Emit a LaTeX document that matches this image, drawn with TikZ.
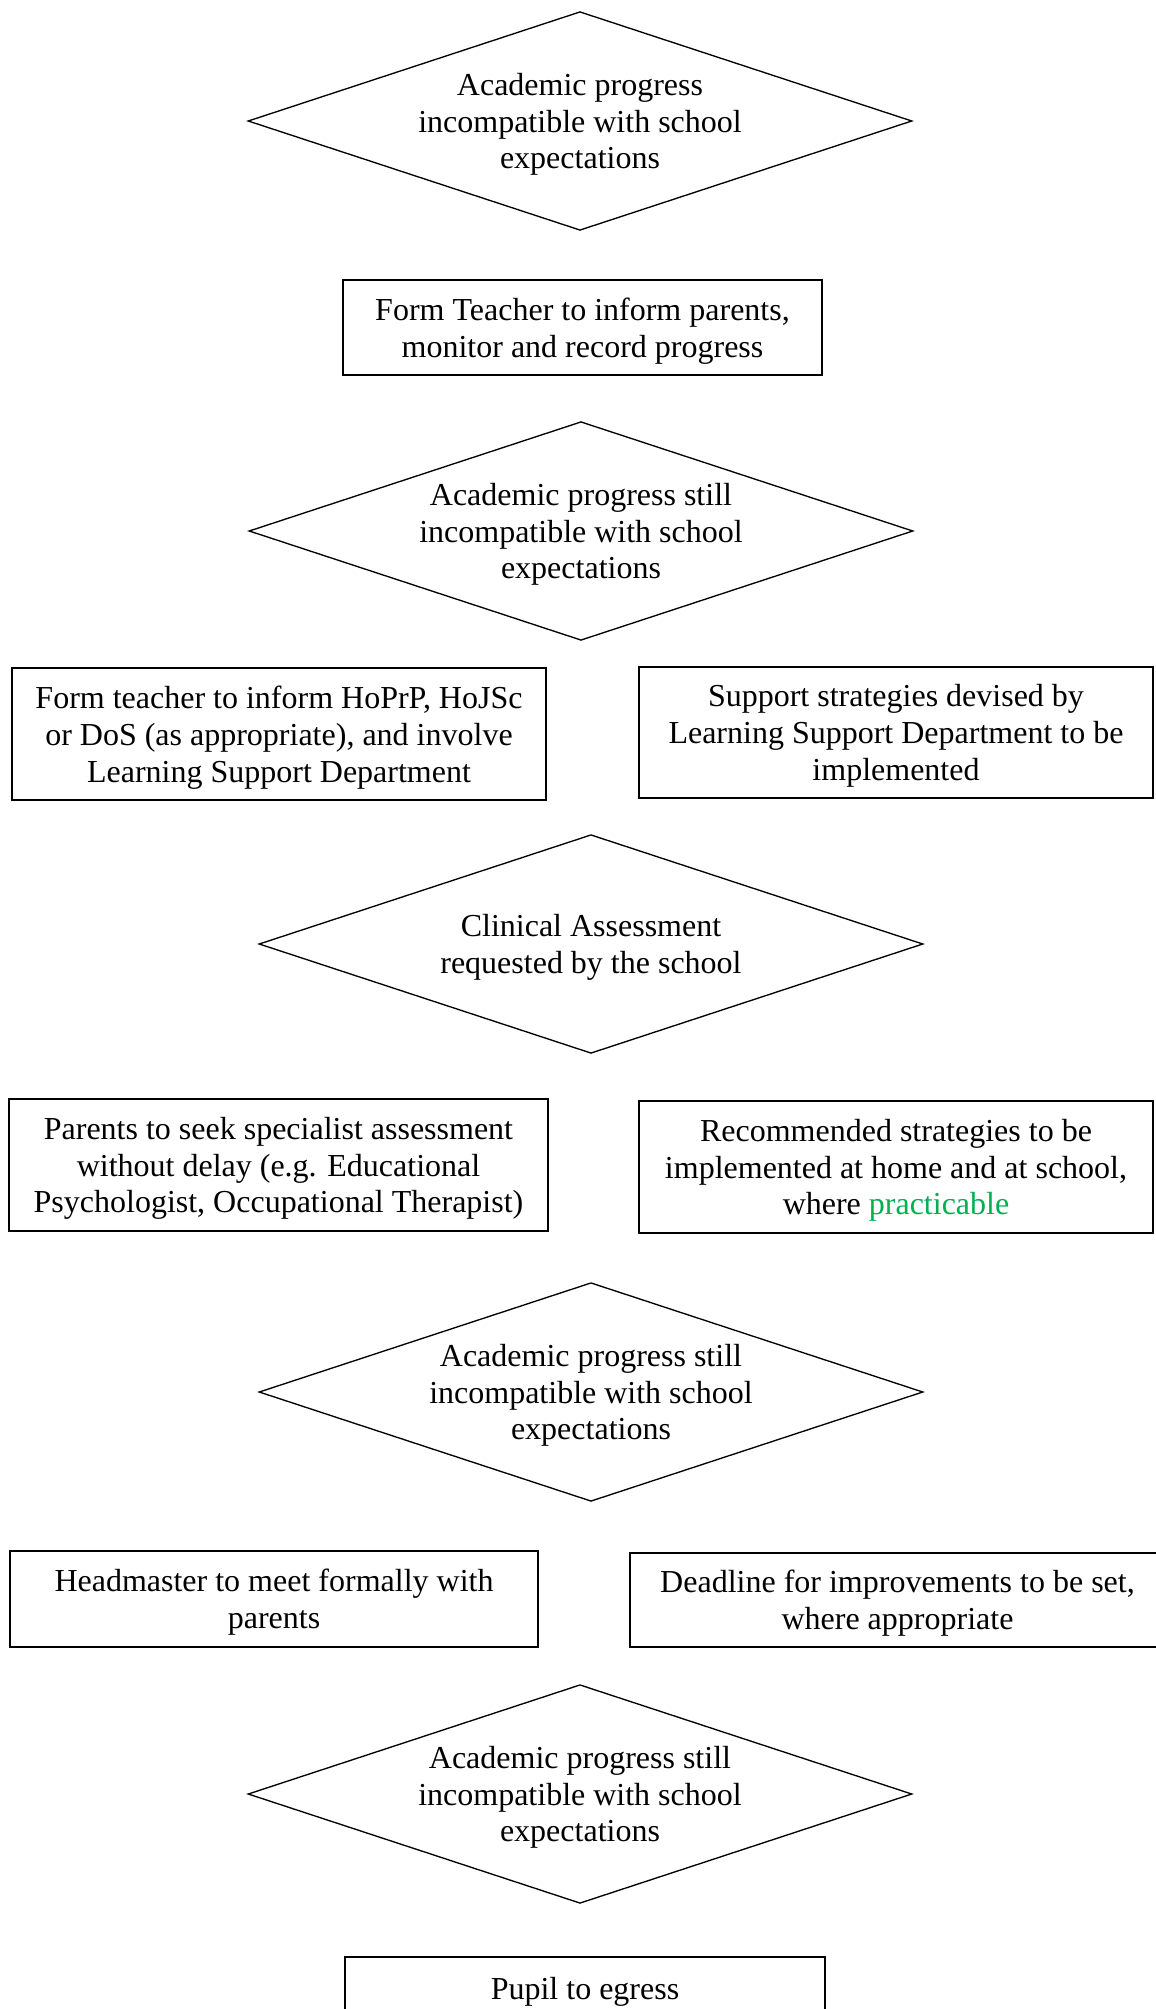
\documentclass[tikz,border=0pt]{standalone}
\usepackage{fontspec}
\setmainfont{Liberation Serif}
\usepackage{xcolor}
\usetikzlibrary{shapes.geometric}
\definecolor{practgreen}{HTML}{00B050}

\begin{document}
\begin{tikzpicture}[
        x=0.375pt, y=-0.375pt, % Coordenadas en pixeles de la imagen
        font=\fontsize{12pt}{13.8pt}\selectfont, % Fuente de las etiquetas
        decision/.style={diamond, aspect=3.03, draw, line width=0.5pt, align=center, %
        inner sep=0pt, text depth=-2.6pt, minimum width=249pt, minimum height=82pt}, % Rombos
        action/.style={rectangle, draw, line width=0.5pt, align=center, text depth=-2.4pt} % Cajas
    ]
        % --- Margenes de la figura ---
        \useasboundingbox (0,0) rectangle (1155,2009);

        % --- Primer bloque ---
        \node[decision] (prog) at (580,121) {Academic progress\\incompatible with school\\expectations};
        \node[action, minimum width=179.6pt, minimum height=35.6pt] (inform) at (582.5,327.5) {Form Teacher to inform parents,\\monitor and record progress};

        % --- Segundo bloque ---
        \node[decision] (still1) at (581,531) {Academic progress still\\incompatible with school\\expectations};
        \node[action, minimum width=200.3pt, minimum height=49.5pt] (involve) at (279,734) {Form teacher to inform HoPrP, HoJSc\\or DoS (as appropriate), and involve\\Learning Support Department};
        \node[action, minimum width=192.8pt, minimum height=49.1pt] (support) at (896,732.5) {Support strategies devised by\\Learning Support Department to be\\implemented};

        % --- Tercer bloque ---
        \node[decision] (clinical) at (591,944) {Clinical Assessment\\requested by the school};
        \node[action, minimum width=202.1pt, minimum height=49.5pt] (specialist) at (278.5,1165) {Parents to seek specialist assessment\\without delay (e.g. Educational\\Psychologist, Occupational Therapist)};
        \node[action, minimum width=192.8pt, minimum height=49.5pt] (recommend) at (896,1167) {Recommended strategies to be\\implemented at home and at school,\\where \textcolor{practgreen}{practicable}};

        % --- Cuarto bloque ---
        \node[decision] (still2) at (591,1392) {Academic progress still\\incompatible with school\\expectations};
        \node[action, minimum width=198pt, minimum height=36pt] (headmaster) at (274,1599) {Headmaster to meet formally with\\parents};
        \node[action, minimum width=200.6pt, minimum height=35.3pt] (deadline) at (897.5,1600) {Deadline for improvements to be set,\\where appropriate};

        % --- Ultimo bloque ---
        \node[decision] (still3) at (580,1794) {Academic progress still\\incompatible with school\\expectations};
        \node[action, minimum width=180pt, minimum height=23.6pt] (egress) at (585,1988.5) {Pupil to egress};

    \end{tikzpicture}
\end{document}
